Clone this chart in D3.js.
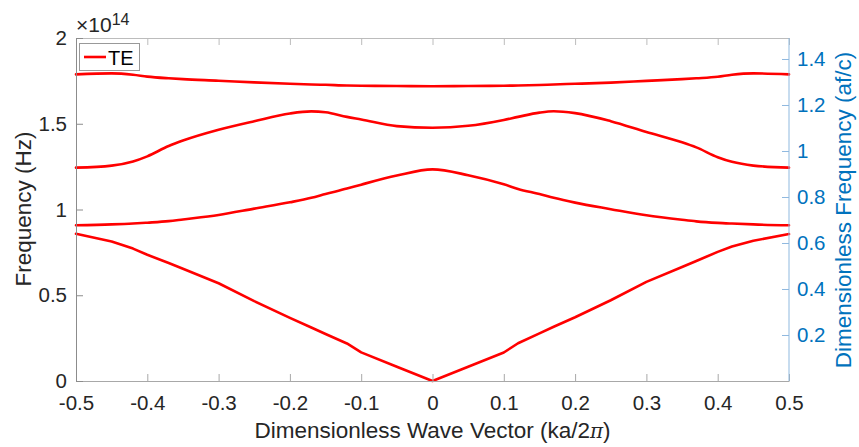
<!DOCTYPE html>
<html><head><meta charset="utf-8">
<script src="https://cdn.jsdelivr.net/npm/d3@7"></script>
<style>
body{margin:0;background:#fff;}
svg{display:block;font-family:"Liberation Sans",Arial,sans-serif;}
</style></head>
<body><svg id="c" width="859" height="447"></svg>
<script>
// Dimensionless wave vector (ka/2pi)
const k = [-0.5,-0.45,-0.42,-0.4,-0.37,-0.35,-0.3,-0.25,-0.2,-0.17,-0.15,-0.12,-0.1,-0.05,0,0.05,0.1,0.12,0.15,0.17,0.2,0.25,0.3,0.35,0.37,0.4,0.42,0.45,0.5];
// Frequencies in units of 1e14 Hz
const band1 = [0.858,0.814,0.772,0.736,0.688,0.655,0.570,0.466,0.368,0.312,0.274,0.219,0.167,0.083,0.000,0.083,0.166,0.220,0.278,0.316,0.372,0.471,0.578,0.665,0.700,0.753,0.784,0.818,0.857];
const band2 = [0.908,0.913,0.918,0.923,0.932,0.942,0.968,1.005,1.042,1.068,1.090,1.122,1.145,1.198,1.234,1.200,1.147,1.120,1.090,1.068,1.040,1.002,0.966,0.940,0.931,0.922,0.918,0.913,0.908];
const band3 = [1.244,1.256,1.280,1.310,1.370,1.402,1.465,1.515,1.560,1.572,1.567,1.540,1.525,1.486,1.477,1.488,1.522,1.540,1.565,1.573,1.562,1.515,1.452,1.392,1.362,1.305,1.278,1.256,1.244];
const band4 = [1.788,1.794,1.786,1.775,1.765,1.760,1.751,1.741,1.733,1.729,1.727,1.723,1.722,1.720,1.719,1.720,1.722,1.723,1.726,1.729,1.733,1.740,1.750,1.760,1.765,1.774,1.786,1.794,1.788];
const bands = [band1, band2, band3, band4];
const xTicks = [-0.5,-0.4,-0.3,-0.2,-0.1,0,0.1,0.2,0.3,0.4,0.5];
const yTicks = [0,0.5,1,1.5,2];
const y2Ticks = [0.2,0.4,0.6,0.8,1,1.2,1.4];
const xDomain = [-0.5,0.5];
const yDomain = [0,2];
const y2Domain = [0,1.4913];
const legendLabel = "TE";

const svg = d3.select("#c");
const L=76,R=789,T=38,B=381;
const x = d3.scaleLinear(xDomain,[L,R]);
const y = d3.scaleLinear(yDomain,[B,T]);
const y2 = d3.scaleLinear(y2Domain,[B,T]);
const txt="#262626", blue="#0072BD";
const fmt = d => String(+d.toFixed(1));
const TF="20.5px", LF="22.5px";

// bands
const line = d3.line().x(d=>x(d[0])).y(d=>y(d[1])).curve(d3.curveMonotoneX);
const lineLin = d3.line().x(d=>x(d[0])).y(d=>y(d[1]));
bands.forEach((b,i)=>{
  svg.append("path").attr("d",(i===0?lineLin:line)(k.map((v,j)=>[v,b[j]])))
    .attr("fill","none").attr("stroke","#FF0000").attr("stroke-width",2.6)
    .attr("stroke-linejoin","round").attr("stroke-linecap","round");
});

function style(g,col,lineCol){
  g.select(".domain").attr("stroke",lineCol);
  g.selectAll(".tick line").attr("stroke",lineCol);
  g.selectAll(".tick text").attr("fill",col).style("font-size",TF).style("font-family","'Liberation Sans',Arial,sans-serif");
}
// bottom axis
const gx = svg.append("g").attr("transform",`translate(0,${B})`)
  .call(d3.axisBottom(x).tickValues(xTicks).tickFormat(fmt).tickSizeInner(-7).tickSizeOuter(0).tickPadding(14));
style(gx,txt,"#a8a8a8");
// top axis
const gt = svg.append("g").attr("transform",`translate(0,${T})`)
  .call(d3.axisTop(x).tickValues(xTicks).tickFormat("").tickSizeInner(-7).tickSizeOuter(0));
style(gt,txt,"#bcbcbc");
// left axis
const gy = svg.append("g").attr("transform",`translate(${L},0)`)
  .call(d3.axisLeft(y).tickValues(yTicks).tickFormat(fmt).tickSizeInner(-7).tickSizeOuter(0).tickPadding(9));
style(gy,txt,"#8c8c8c");
// right axis
const gr = svg.append("g").attr("transform",`translate(${R},0)`)
  .call(d3.axisRight(y2).tickValues(y2Ticks).tickFormat(fmt).tickSizeInner(-7).tickSizeOuter(0).tickPadding(8));
gr.select(".domain").attr("d",`M0,${B}V${T}`);
style(gr,blue,"#8fb9df");

// exponent label
const ex = svg.append("text").attr("x",76).attr("y",31.5).attr("fill",txt).style("font-size","21px");
ex.append("tspan").text("\u00D710");
ex.append("tspan").attr("dy",-7).style("font-size","16px").text("14");

// axis labels
const xl = svg.append("text").attr("x",(L+R)/2).attr("y",438).attr("text-anchor","middle")
  .attr("fill",txt).style("font-size",LF);
xl.append("tspan").text("Dimensionless Wave Vector (ka/2");
xl.append("tspan").style("font-style","italic").style("font-family","'DejaVu Serif',serif").style("font-size","20px").text("\u03C0");
xl.append("tspan").text(")");
svg.append("text").attr("transform","translate(31,209) rotate(-90)").attr("text-anchor","middle")
  .attr("fill",txt).style("font-size",LF).text("Frequency (Hz)");
svg.append("text").attr("transform","translate(851,210) rotate(-90)").attr("text-anchor","middle")
  .attr("fill",blue).style("font-size",LF).text("Dimensionless Frequency (af/c)");

// legend
svg.append("rect").attr("x",79.5).attr("y",43.5).attr("width",60).attr("height",27)
  .attr("fill","#fff").attr("stroke","#999").attr("stroke-width",1);
svg.append("line").attr("x1",84).attr("x2",106).attr("y1",57).attr("y2",57)
  .attr("stroke","#FF0000").attr("stroke-width",2.6);
svg.append("text").attr("x",108).attr("y",64.5).attr("fill","#000").style("font-size","20px").text(legendLabel);
</script></body></html>
